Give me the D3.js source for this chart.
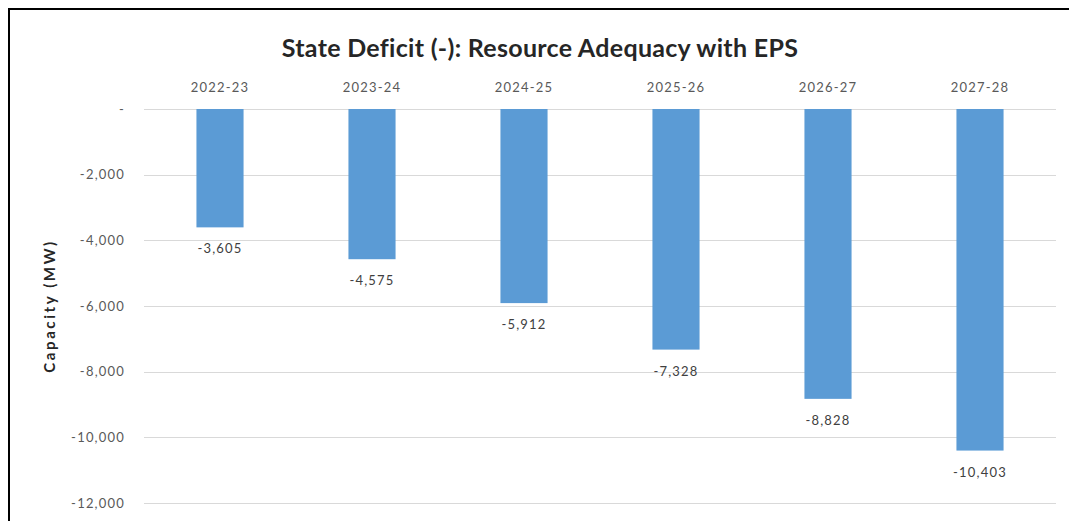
<!DOCTYPE html>
<html>
<head>
<meta charset="utf-8">
<script src="https://cdn.jsdelivr.net/npm/d3@7"></script>
<style>
  html, body { margin: 0; padding: 0; background: #fff; }
  svg { display: block; font-family: Lato, "Liberation Sans", sans-serif; }
</style>
</head>
<body>
<svg id="chart" width="1069" height="521"></svg>
<script>
const categories = ["2022-23", "2023-24", "2024-25", "2025-26", "2026-27", "2027-28"];
const values = [-3605, -4575, -5912, -7328, -8828, -10403];
const yTicks = [0, -2000, -4000, -6000, -8000, -10000, -12000];
const title = "State Deficit (-): Resource Adequacy with EPS";
const yTitle = "Capacity (MW)";

const svg = d3.select("#chart");
const W = 1069, H = 521;
svg.append("rect").attr("width", W).attr("height", H).attr("fill", "#fff");

// frame (left and top edges visible)
svg.append("line").attr("x1", 9).attr("x2", 9).attr("y1", 9).attr("y2", H).attr("stroke", "#000").attr("stroke-width", 2);
svg.append("line").attr("x1", 8).attr("x2", W).attr("y1", 9).attr("y2", 9).attr("stroke", "#000").attr("stroke-width", 2);

const x = d3.scaleBand().domain(categories).range([144, 1056]).paddingInner(0.69).paddingOuter(0.345);
const y = d3.scaleLinear().domain([-12000, 0]).range([503, 109]);

// gridlines
svg.append("g").selectAll("line").data(yTicks).join("line")
  .attr("x1", 144).attr("x2", 1056)
  .attr("y1", d => Math.round(y(d)) + 0.5).attr("y2", d => Math.round(y(d)) + 0.5)
  .attr("stroke", "#d9d9d9").attr("stroke-width", 1);

const fmt = d => d3.format(",")(d).replace("−", "-");

// y axis labels
const yAxis = d3.axisLeft(y).tickValues(yTicks).tickSize(0).tickPadding(0)
  .tickFormat(d => d === 0 ? "-" : fmt(d));
const gy = svg.append("g").attr("transform", "translate(125,0)").call(yAxis);
gy.select(".domain").remove();
gy.selectAll("text").attr("fill", "#595959").attr("font-size", 13).attr("letter-spacing", 1.2)
  .attr("font-family", "Lato, sans-serif");

// x axis labels on top
const xAxis = d3.axisTop(x).tickSize(0).tickPadding(0);
const gx = svg.append("g").attr("transform", "translate(0,92)").call(xAxis);
gx.select(".domain").remove();
gx.selectAll("text").attr("fill", "#595959").attr("font-size", 13).attr("letter-spacing", 1.2)
  .attr("font-family", "Lato, sans-serif");

// bars
svg.append("g").selectAll("rect").data(values).join("rect")
  .attr("x", (d, i) => x(categories[i]))
  .attr("width", x.bandwidth())
  .attr("y", y(0))
  .attr("height", d => y(d) - y(0))
  .attr("fill", "#5B9BD5");

// data labels
svg.append("g").selectAll("text").data(values).join("text")
  .attr("x", (d, i) => x(categories[i]) + x.bandwidth() / 2)
  .attr("y", d => y(d) + 26)
  .attr("text-anchor", "middle")
  .attr("font-size", 13)
  .attr("letter-spacing", 1.2)
  .attr("fill", "#404040")
  .text(d => fmt(d));

// title
svg.append("text").attr("x", 540).attr("y", 57).attr("text-anchor", "middle")
  .attr("font-size", 25).attr("font-weight", "bold").attr("letter-spacing", 0.3).attr("fill", "#262626")
  .text(title);

// y title
svg.append("text").attr("transform", "translate(55,306) rotate(-90)")
  .attr("text-anchor", "middle").attr("font-size", 15).attr("font-weight", "bold")
  .attr("letter-spacing", 2.6).attr("fill", "#262626")
  .text(yTitle);
</script>
</body>
</html>
